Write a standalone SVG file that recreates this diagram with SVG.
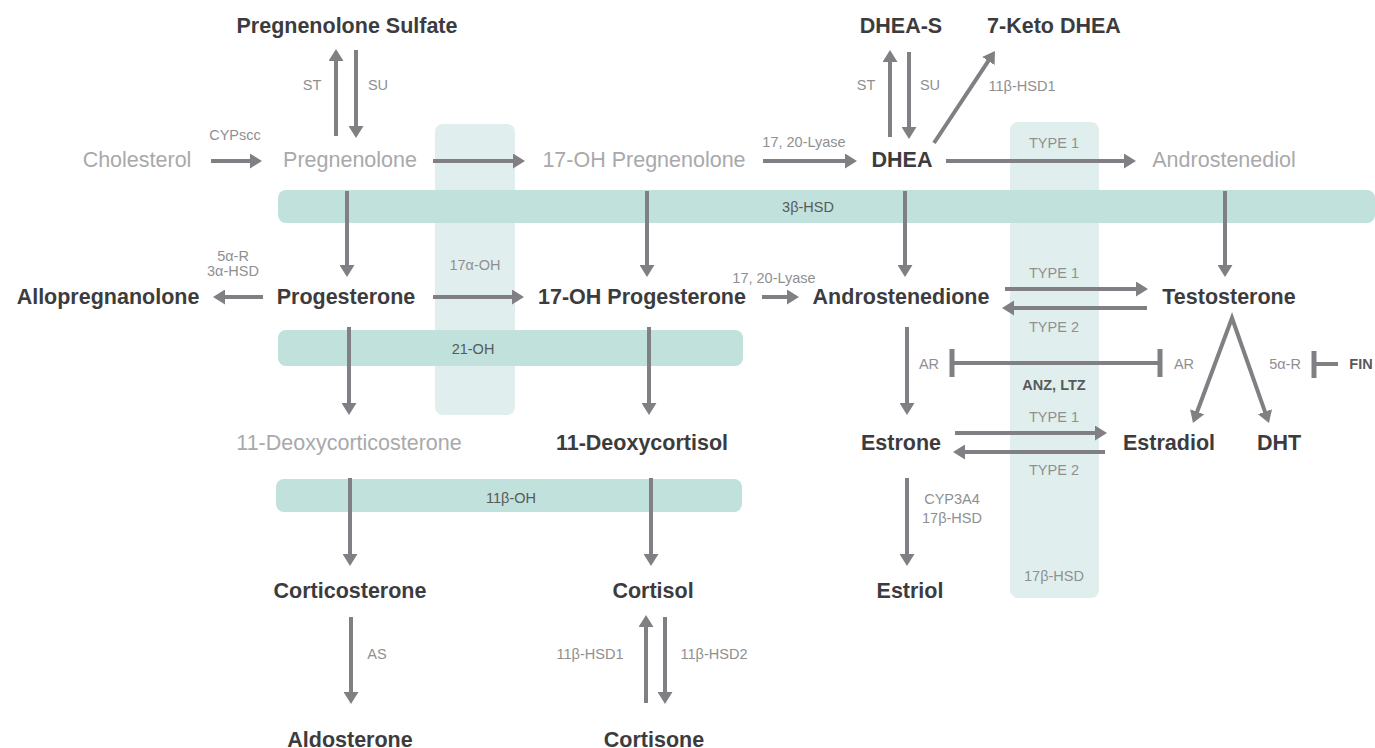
<svg xmlns="http://www.w3.org/2000/svg" width="1375" height="748" viewBox="0 0 1375 748">
<style>
text{font-family:"Liberation Sans",Arial,sans-serif;text-anchor:middle}
.b{font-size:21.5px;font-weight:bold;fill:#3c3c3e}
.l{font-size:21.5px;fill:#a9a9ab}
.s{font-size:14.5px;fill:#8f8f92}
.d{font-size:14.5px;fill:#58595b}
.sb{font-size:14.5px;font-weight:bold;fill:#58595b}
.c line,.c path{stroke:#808084;stroke-width:4;fill:none}
.c .a{marker-end:url(#ah)}
.hb{fill:#c1e1dc}
.vb{fill:#e0efed}
</style>
<defs>
<marker id="ah" markerUnits="userSpaceOnUse" viewBox="0 0 12 15" markerWidth="12" markerHeight="15" refX="1" refY="7.5" orient="auto"><path d="M0,0 L12,7.5 L0,15 Z" fill="#808084"/></marker>
<marker id="ah2" markerUnits="userSpaceOnUse" viewBox="0 0 12 15" markerWidth="12" markerHeight="15" refX="1" refY="7.5" orient="auto-start-reverse"><path d="M0,0 L12,7.5 L0,15 Z" fill="#808084"/></marker>
</defs>
<rect width="1375" height="748" fill="#fff"/>
<g id="bands">
<rect id="band-17aOH" class="vb" x="435" y="124" width="80" height="291" rx="8"/>
<rect id="band-17bHSD" class="vb" x="1010" y="122" width="89" height="476" rx="8"/>
<rect id="band-3bHSD" class="hb" x="278" y="190" width="1097" height="33" rx="8"/>
<rect id="band-21OH" class="hb" x="278" y="330" width="465" height="36" rx="8"/>
<rect id="band-11bOH" class="hb" x="276" y="479" width="466" height="33" rx="8"/>
<text class="s" x="475" y="270">17α-OH</text>
<text class="s" x="1054" y="148">TYPE 1</text>
<text class="s" x="1054" y="581">17β-HSD</text>
<text class="d" x="808" y="212">3β-HSD</text>
<text class="d" x="473" y="354">21-OH</text>
<text class="d" x="511" y="503">11β-OH</text>
</g>
<g id="connectors" class="c">
<line class="a" x1="211" y1="161" x2="251" y2="161"/>
<line class="a" x1="336" y1="136" x2="336" y2="60"/>
<line class="a" x1="356" y1="50" x2="356" y2="127"/>
<line class="a" x1="433" y1="161" x2="514" y2="161"/>
<line class="a" x1="763" y1="161" x2="846" y2="161"/>
<line class="a" x1="890" y1="137" x2="890" y2="61"/>
<line class="a" x1="909" y1="52" x2="909" y2="128"/>
<line class="a" x1="934" y1="143" x2="988.9" y2="60.2"/>
<line class="a" x1="946" y1="161" x2="1125" y2="161"/>
<line class="a" x1="347" y1="191" x2="347" y2="266"/>
<line class="a" x1="647" y1="191" x2="647" y2="266"/>
<line class="a" x1="905" y1="191" x2="905" y2="266"/>
<line class="a" x1="1225" y1="191" x2="1225" y2="266"/>
<line class="a" x1="263" y1="297" x2="224" y2="297"/>
<line class="a" x1="433" y1="297" x2="513" y2="297"/>
<line class="a" x1="762" y1="297" x2="788" y2="297"/>
<line class="a" x1="1005" y1="289" x2="1137" y2="289"/>
<line class="a" x1="1147" y1="308" x2="1013" y2="308"/>
<line class="a" x1="349" y1="327" x2="349" y2="404"/>
<line class="a" x1="649" y1="327" x2="649" y2="404"/>
<line class="a" x1="907" y1="327" x2="907" y2="404"/>
<line x1="952" y1="363" x2="1160" y2="363"/>
<line x1="952" y1="349" x2="952" y2="377" style="stroke-width:5"/>
<line x1="1160" y1="349" x2="1160" y2="377" style="stroke-width:5"/>
<path d="M1196.8,412.7 L1232,318 L1265.3,412.6" style="marker-start:url(#ah2);marker-end:url(#ah2);stroke-linejoin:miter"/>
<line x1="1314" y1="364" x2="1338" y2="364"/>
<line x1="1314" y1="351" x2="1314" y2="378" style="stroke-width:5"/>
<line class="a" x1="955" y1="433" x2="1096" y2="433"/>
<line class="a" x1="1105" y1="452" x2="964" y2="452"/>
<line class="a" x1="350" y1="478" x2="350" y2="555"/>
<line class="a" x1="651" y1="478" x2="651" y2="555"/>
<line class="a" x1="907" y1="478" x2="907" y2="555"/>
<line class="a" x1="351" y1="617" x2="351" y2="693"/>
<line class="a" x1="646" y1="703" x2="646" y2="626"/>
<line class="a" x1="665" y1="617" x2="665" y2="693"/>
</g>
<g id="edge-labels">
<text class="s" x="235" y="140">CYPscc</text>
<text class="s" x="312" y="90">ST</text>
<text class="s" x="378" y="90">SU</text>
<text class="s" x="804" y="147">17, 20-Lyase</text>
<text class="s" x="866" y="90">ST</text>
<text class="s" x="930" y="90">SU</text>
<text class="s" x="1022" y="91">11β-HSD1</text>
<text class="s" x="233" y="261">5α-R</text>
<text class="s" x="233" y="276">3α-HSD</text>
<text class="s" x="774" y="283">17, 20-Lyase</text>
<text class="s" x="1054" y="278">TYPE 1</text>
<text class="s" x="1054" y="332">TYPE 2</text>
<text class="s" x="929" y="369">AR</text>
<text class="s" x="1184" y="369">AR</text>
<text class="sb" x="1054" y="390">ANZ, LTZ</text>
<text class="s" x="1285" y="369">5α-R</text>
<text class="s" x="1054" y="422">TYPE 1</text>
<text class="s" x="1054" y="475">TYPE 2</text>
<text class="s" x="952" y="504">CYP3A4</text>
<text class="s" x="952" y="523">17β-HSD</text>
<text class="s" x="377" y="659">AS</text>
<text class="s" x="590" y="659">11β-HSD1</text>
<text class="s" x="714" y="659">11β-HSD2</text>
</g>
<g id="n-pregsulf"><text class="b" x="347" y="33">Pregnenolone Sulfate</text></g>
<g id="n-dheas"><text class="b" x="901" y="33">DHEA-S</text></g>
<g id="n-7keto"><text class="b" x="1054" y="33">7-Keto DHEA</text></g>
<g id="n-chol"><text class="l" x="137" y="167">Cholesterol</text></g>
<g id="n-preg"><text class="l" x="350" y="167">Pregnenolone</text></g>
<g id="n-17ohpreg"><text class="l" x="644" y="167">17-OH Pregnenolone</text></g>
<g id="n-dhea"><text class="b" x="902" y="167">DHEA</text></g>
<g id="n-androstenediol"><text class="l" x="1224" y="167">Androstenediol</text></g>
<g id="n-allo"><text class="b" x="108" y="304">Allopregnanolone</text></g>
<g id="n-prog"><text class="b" x="346" y="304">Progesterone</text></g>
<g id="n-17ohp"><text class="b" x="642" y="304">17-OH Progesterone</text></g>
<g id="n-androstenedione"><text class="b" x="901" y="304">Androstenedione</text></g>
<g id="n-testo"><text class="b" x="1229" y="304">Testosterone</text></g>
<g id="n-fin"><text class="sb" x="1361" y="369">FIN</text></g>
<g id="n-11doc"><text class="l" x="349" y="450">11-Deoxycorticosterone</text></g>
<g id="n-11dc"><text class="b" x="642" y="450">11-Deoxycortisol</text></g>
<g id="n-estrone"><text class="b" x="901" y="450">Estrone</text></g>
<g id="n-estradiol"><text class="b" x="1169" y="450">Estradiol</text></g>
<g id="n-dht"><text class="b" x="1279" y="450">DHT</text></g>
<g id="n-cortico"><text class="b" x="350" y="598">Corticosterone</text></g>
<g id="n-cortisol"><text class="b" x="653" y="598">Cortisol</text></g>
<g id="n-estriol"><text class="b" x="910" y="598">Estriol</text></g>
<g id="n-aldo"><text class="b" x="350" y="747">Aldosterone</text></g>
<g id="n-cortisone"><text class="b" x="654" y="747">Cortisone</text></g>
</svg>
